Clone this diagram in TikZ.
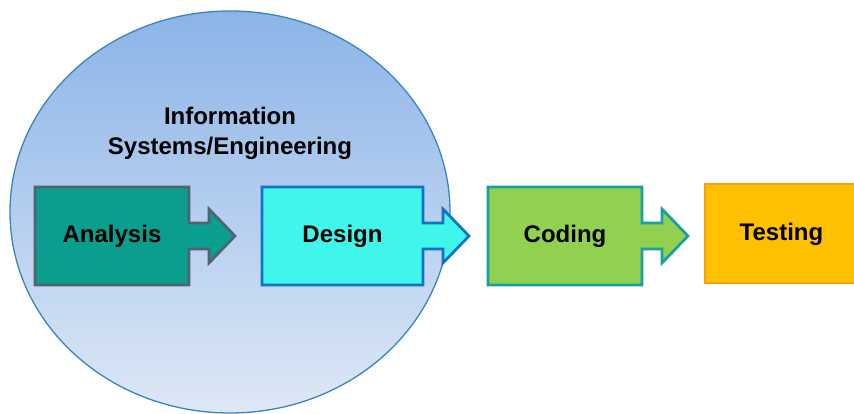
\documentclass[tikz,border=0pt]{standalone}
\usepackage{fontspec}
\setmainfont{Liberation Sans}
\usepackage{xcolor}
\usetikzlibrary{positioning,backgrounds}
\definecolor{analysisFill}{HTML}{0A9E8E}
\definecolor{analysisLine}{HTML}{536270}
\definecolor{designFill}{HTML}{40F5E9}
\definecolor{designLine}{HTML}{1273C4}
\definecolor{codingFill}{HTML}{92D050}
\definecolor{codingLine}{HTML}{17A1A5}
\definecolor{testingFill}{HTML}{FFC000}
\definecolor{testingLine}{HTML}{FF9C00}
\definecolor{circleTop}{HTML}{8BB4E8}
\definecolor{circleBottom}{HTML}{DEE8F6}
\definecolor{circleLine}{HTML}{3A85BD}
\tikzstyle{phase} = [rectangle, minimum width=154pt, minimum height=98pt,
	inner sep=0pt, outer sep=0pt, font=\fontsize{24}{28}\selectfont\bfseries]
\tikzstyle{phaseLine} = [line width=2.7pt, line join=miter]
\tikzstyle{infoCircle} = [line width=1.3pt, draw=circleLine,
	top color=circleTop, bottom color=circleBottom]
% box with block arrow on its right side
\newcommand{\boxArrow}[2]{%
	\draw[phaseLine,#2] (#1.north west) -- (#1.north east) -- ([yshift=13pt]#1.east)
	-- ++(20pt,0) -- ++(0,14pt) -- ([xshift=46pt]#1.east) -- ++(-26pt,-27pt)
	-- ++(0,14pt) -- ([yshift=-13pt]#1.east) -- (#1.south east) -- (#1.south west) -- cycle;}
\begin{document}
\begin{tikzpicture}[x=1pt,y=1pt]
		\useasboundingbox (0,0) rectangle (854,414);
		% nodes
		\node[phase] (analysis) at (112,178) {Analysis};					% Analyse
		\node[phase,minimum width=161pt,right=73pt of analysis] (design) {Design};	% Entwurf
		\node[phase,right=65pt of design] (coding) {Coding};				% Programmierung
		\node[phase,minimum width=153pt,minimum height=99pt,right=63pt of coding,yshift=2pt] (testing) {Testing};
		\node[align=center,font=\fontsize{24}{30}\selectfont\bfseries] (info-title) at (230,281) {Information\\Systems/Engineering};
		
		% shapes behind the text
		\begin{scope}[on background layer]
		\draw[infoCircle] (230,202) ellipse (220 and 201);
		\boxArrow{analysis}{draw=analysisLine,fill=analysisFill}
		\boxArrow{design}{draw=designLine,fill=designFill}
		\boxArrow{coding}{draw=codingLine,fill=codingFill}
		\draw[phaseLine,line width=2pt,draw=testingLine,fill=testingFill] (testing.north west) rectangle (testing.south east);
		\end{scope}
		\end{tikzpicture}
\end{document}
